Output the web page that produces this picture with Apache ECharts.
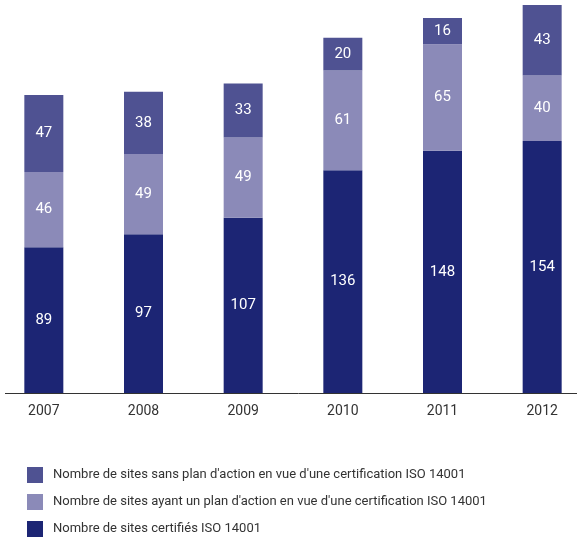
<!DOCTYPE html>
<html>
<head>
<meta charset="utf-8">
<script src="https://cdn.jsdelivr.net/npm/echarts@6/dist/echarts.min.js"></script>
<style>
  html, body { margin: 0; padding: 0; background: #fff; overflow: hidden; }
  #chart { width: 598px; height: 542px; margin-left: -6px; }
</style>
</head>
<body>
<div id="chart"></div>
<script>
// Sites ISO 14001 par année
const years = ['2007', '2008', '2009', '2010', '2011', '2012'];
const certifies = [89, 97, 107, 136, 148, 154];
const avecPlan = [46, 49, 49, 61, 65, 40];
const sansPlan = [47, 38, 33, 20, 16, 43];

const names = {
  sans: "Nombre de sites sans plan d'action en vue d'une certification ISO 14001",
  avec: "Nombre de sites ayant un plan d'action en vue d'une certification ISO 14001",
  cert: "Nombre de sites certifiés ISO 14001"
};

const font = 'Roboto, "Liberation Sans", sans-serif';

const labelStyle = {
  show: true,
  position: 'inside',
  color: '#ffffff',
  fontFamily: font,
  fontSize: 15
};

function bar(name, data, color) {
  return {
    name: name,
    type: 'bar',
    stack: 'total',
    barWidth: 39,
    data: data,
    itemStyle: { color: color },
    label: labelStyle,
    emphasis: { disabled: true }
  };
}

const chart = echarts.init(document.getElementById('chart'), null, { renderer: 'canvas' });
chart.setOption({
  animation: false,
  grid: { left: 0, right: 0, top: 5, bottom: 149, containLabel: false },
  xAxis: {
    type: 'category',
    data: years,
    axisLine: { show: false },
    axisTick: { show: false },
    axisLabel: { color: '#333', fontFamily: font, fontSize: 14, margin: 11 }
  },
  yAxis: {
    type: 'value',
    min: 0,
    max: 237,
    show: false
  },
  legend: {
    orient: 'vertical',
    left: 33,
    top: 467,
    height: 75,
    padding: 0,
    itemWidth: 16,
    itemHeight: 16,
    itemGap: 11,
    icon: 'rect',
    data: [names.sans, names.avec, names.cert],
    textStyle: { color: '#333', fontFamily: font, fontSize: 13, padding: [0, 0, 0, 5] }
  },
  graphic: [{
    type: 'line',
    shape: { x1: 11, y1: 393.5, x2: 598, y2: 393.5 },
    style: { stroke: '#333', lineWidth: 1 },
    z: 10
  }],
  series: [
    bar(names.cert, certifies, '#1c2574'),
    bar(names.avec, avecPlan, '#8b8ab8'),
    bar(names.sans, sansPlan, '#4f5292')
  ]
});
</script>
</body>
</html>
